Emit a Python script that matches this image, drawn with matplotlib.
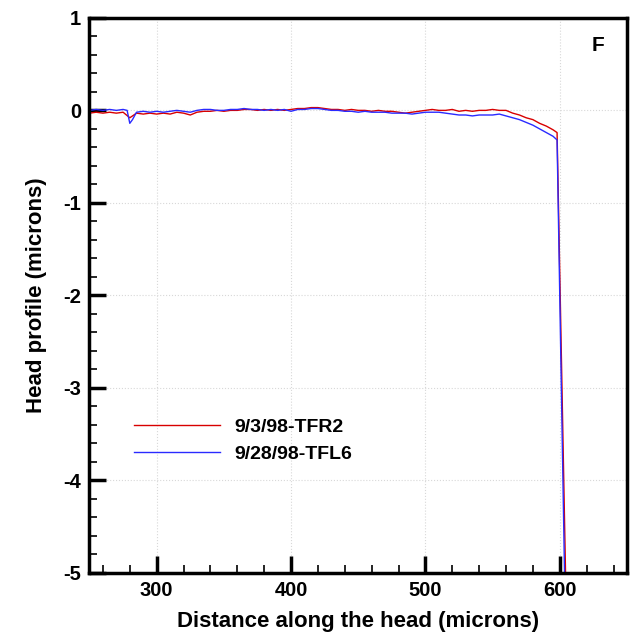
import matplotlib
matplotlib.use("Agg")
import matplotlib.pyplot as plt
from matplotlib.ticker import MultipleLocator

plt.rcParams['font.family'] = ['Liberation Sans', 'DejaVu Sans']
plt.rcParams['font.weight'] = 'bold'
plt.rcParams['axes.unicode_minus'] = False

# Series 1: 9/3/98-TFR2 (red)
x_tfr2 = [250, 255, 260, 265, 270, 275, 280, 285, 290, 295, 300, 305, 310, 315, 320,
          325, 330, 335, 340, 345, 350, 355, 360, 365, 370, 375, 380, 385, 390, 395,
          400, 405, 410, 415, 420, 425, 430, 435, 440, 445, 450, 455, 460, 465, 470,
          475, 480, 485, 490, 495, 500, 505, 510, 515, 520, 525, 530, 535, 540, 545,
          550, 555, 560, 565, 570, 575, 580, 585, 590, 595, 598, 604.7]
y_tfr2 = [-0.03, -0.02, -0.03, -0.02, -0.03, -0.02, -0.08, -0.03, -0.04, -0.03, -0.04, -0.03, -0.04, -0.02, -0.03,
          -0.05, -0.02, -0.01, -0.01, 0.00, -0.01, 0.00, 0.00, 0.01, 0.01, 0.00, 0.01, 0.00, 0.01, 0.00,
          0.01, 0.02, 0.02, 0.03, 0.03, 0.02, 0.01, 0.01, 0.00, 0.01, 0.00, 0.00, -0.01, 0.00, -0.01,
          -0.01, -0.02, -0.03, -0.02, -0.01, 0.00, 0.01, 0.00, 0.00, 0.01, -0.01, 0.00, -0.01, 0.00, 0.00,
          0.01, 0.00, 0.00, -0.03, -0.05, -0.08, -0.10, -0.14, -0.17, -0.21, -0.24, -5.3]

# Series 2: 9/28/98-TFL6 (blue)
x_tfl6 = [250, 255, 260, 265, 270, 275, 278, 280, 282, 285, 290, 295, 300, 305, 310, 315, 320,
          325, 330, 335, 340, 345, 350, 355, 360, 365, 370, 375, 380, 385, 390, 395,
          400, 405, 410, 415, 420, 425, 430, 435, 440, 445, 450, 455, 460, 465, 470,
          475, 480, 485, 490, 495, 500, 505, 510, 515, 520, 525, 530, 535, 540, 545,
          550, 555, 560, 565, 570, 575, 580, 585, 590, 595, 598, 603.9]
y_tfl6 = [0.00, 0.01, 0.00, 0.01, 0.00, 0.01, 0.00, -0.14, -0.10, -0.02, -0.01, -0.02, -0.01, -0.02, -0.01, 0.00, -0.01,
          -0.02, 0.00, 0.01, 0.01, 0.00, 0.00, 0.01, 0.01, 0.02, 0.01, 0.01, 0.00, 0.01, 0.00, 0.01,
          -0.01, 0.01, 0.01, 0.02, 0.02, 0.01, 0.00, 0.00, -0.01, -0.01, -0.02, -0.01, -0.02, -0.02, -0.02,
          -0.03, -0.03, -0.03, -0.04, -0.03, -0.02, -0.02, -0.02, -0.03, -0.04, -0.05, -0.05, -0.06, -0.05, -0.05,
          -0.05, -0.04, -0.06, -0.08, -0.10, -0.13, -0.16, -0.20, -0.24, -0.28, -0.32, -5.3]

labels = ['9/3/98-TFR2', '9/28/98-TFL6']

fig = plt.figure(figsize=(6.32, 6.38), dpi=100)
ax = fig.add_axes([0.1416, 0.102, 0.992 - 0.1416, 0.972 - 0.102])

ax.plot(x_tfr2, y_tfr2, color='#d80000', lw=1.0, label=labels[0])
ax.plot(x_tfl6, y_tfl6, color='#2a2aff', lw=1.0, label=labels[1])

ax.set_xlim(250, 650)
ax.set_ylim(-5, 1)
ax.xaxis.set_major_locator(MultipleLocator(100))
ax.xaxis.set_minor_locator(MultipleLocator(20))
ax.yaxis.set_major_locator(MultipleLocator(1))
ax.yaxis.set_minor_locator(MultipleLocator(0.2))

ax.grid(True, which='major', color='#d8d8d8', linestyle=':', lw=0.8)
ax.set_axisbelow(True)

for s in ax.spines.values():
    s.set_linewidth(2.5)
ax.tick_params(which='major', direction='in', length=12, width=2.5, labelsize=14.5, pad=6)
ax.tick_params(which='minor', direction='in', length=6, width=1.2)
ax.tick_params(axis='both', which='both', top=False, right=False)
for lab in ax.get_xticklabels() + ax.get_yticklabels():
    lab.set_fontweight('bold')

ax.set_xlabel('Distance along the head (microns)', fontsize=16, fontweight='bold', labelpad=8)
ax.set_ylabel('Head profile (microns)', fontsize=16, fontweight='bold', labelpad=12)

ax.text(0.946, 0.951, 'F', transform=ax.transAxes, fontsize=15, fontweight='bold',
        ha='center', va='center')

leg = ax.legend(loc='upper left', bbox_to_anchor=(0.083, 0.279), frameon=False,
                handlelength=4.4, handletextpad=0.75, labelspacing=0.5,
                borderpad=0, borderaxespad=0,
                prop={'weight': 'bold', 'size': 14})

fig.savefig('out.png', dpi=100)
